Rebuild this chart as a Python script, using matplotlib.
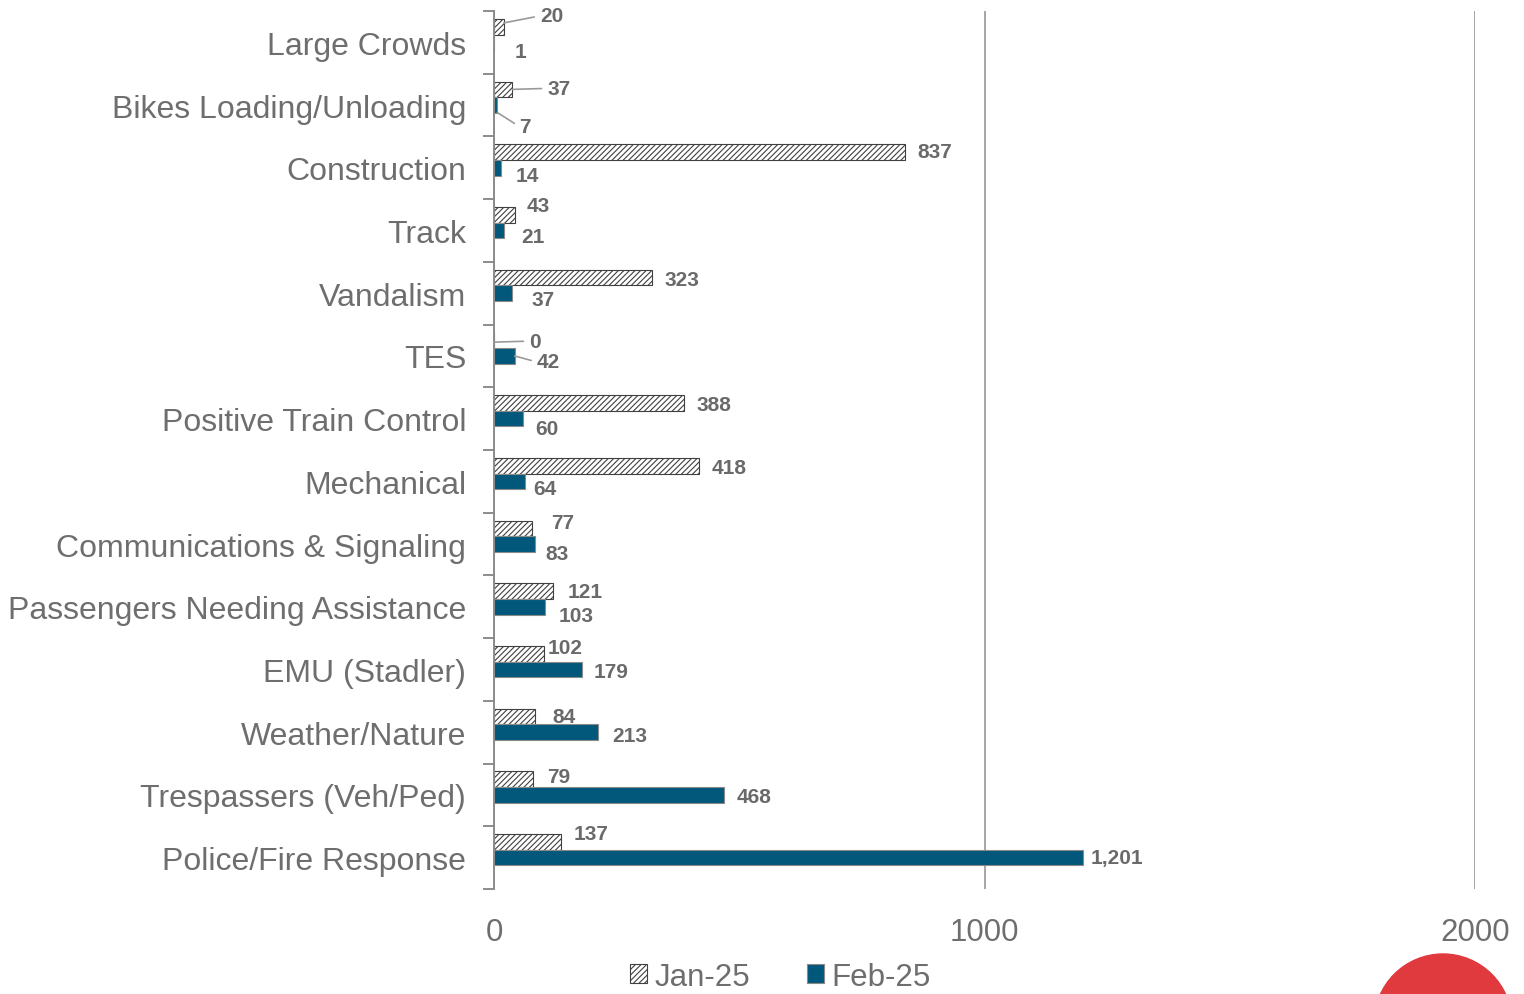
import matplotlib
matplotlib.use("Agg")
import matplotlib.pyplot as plt
from matplotlib.patches import Ellipse
from matplotlib.ticker import FixedLocator
import numpy as np

plt.rcParams['font.family'] = ['Liberation Sans', 'DejaVu Sans']
plt.rcParams['hatch.linewidth'] = 0.8

categories = ["Large Crowds", "Bikes Loading/Unloading", "Construction", "Track",
              "Vandalism", "TES", "Positive Train Control", "Mechanical",
              "Communications & Signaling", "Passengers Needing Assistance",
              "EMU (Stadler)", "Weather/Nature", "Trespassers (Veh/Ped)",
              "Police/Fire Response"]
jan_25 = [20, 37, 837, 43, 323, 0, 388, 418, 77, 121, 102, 84, 79, 137]
feb_25 = [1, 7, 14, 21, 37, 42, 60, 64, 83, 103, 179, 213, 468, 1201]
x_ticks = [0, 1000, 2000]

# label placement tweaks: (pixels right of bar end, pixels below bar centre)
jan_offsets = [(36, -7), (35, -1), (13, -1), (12, -9), (12, 2), (35, -1), (12, 2),
               (13, 2), (19, -6), (14, 0), (4, -6), (17, 0), (14, -3), (12, -8)]
feb_offsets = [(20, 9), (22, 14), (15, 8), (17, 6), (19, 6), (22, 6), (12, 10),
               (8, 7), (11, 9), (14, 9), (12, 2), (14, 3), (13, 2), (8, 0)]
# leader-line anchor shift (category units, downwards) for labels set apart
jan_leader = {0: -0.06, 1: 0.0, 5: 0.03}
feb_leader = {1: 0.12, 5: 0.0}

BLUE = "#02587A"
GRID = "#a6a6a6"
TXT = "#6e6e6e"
LBL = "#6a6a6a"

W, H = 1524, 995
fig = plt.figure(figsize=(W / 100, H / 100), dpi=100)
ax = fig.add_axes([494 / W, 1 - 890 / H, (1475 - 494) / W, (890 - 12) / H])

y = np.arange(len(categories))
bh = 0.25
ax.barh(y - 0.25, jan_25, height=bh, color="white", edgecolor="#404040",
        hatch="//////", linewidth=0.8, label="Jan-25", zorder=3)
ax.barh(y, feb_25, height=bh, color=BLUE, edgecolor="#8a8a8a",
        linewidth=0.8, label="Feb-25", zorder=3)

ax.set_xlim(0, 2000)
ax.set_ylim(len(categories) - 0.5, -0.5)

ax.set_xticks(x_ticks)
ax.set_xticklabels([str(v) for v in x_ticks], fontsize=22.5, color=TXT)
ax.tick_params(axis="x", length=0, pad=20)
ax.xaxis.grid(True, color=GRID, linewidth=1.4, zorder=0)

ax.set_yticks(y)
ax.set_yticklabels(categories, fontsize=23.0, color=TXT)
ax.yaxis.set_minor_locator(FixedLocator(np.arange(-0.5, len(categories), 1.0)))
ax.tick_params(axis="y", which="major", length=0, pad=20)
ax.tick_params(axis="y", which="minor", length=8, width=1.4, color="#8c8c8c")

for s in ["top", "right", "bottom"]:
    ax.spines[s].set_visible(False)
ax.spines["left"].set_color("#8c8c8c")
ax.spines["left"].set_linewidth(1.4)
ax.spines["left"].set_zorder(4)


def put_label(val, yc, off, anchor_shift):
    kw = dict(textcoords="offset pixels", ha="left", va="center",
              fontsize=15, fontweight="bold", color=LBL, zorder=5,
              annotation_clip=False)
    xytext = (off[0], -off[1])
    if anchor_shift is not None:
        kw["arrowprops"] = dict(arrowstyle="-", color="#9a9a9a", lw=1.2,
                                shrinkA=2, shrinkB=0, relpos=(0, 0.5))
        ax.annotate(f"{val:,}", xy=(val, yc + anchor_shift), xytext=xytext, **kw)
    else:
        ax.annotate(f"{val:,}", xy=(val, yc), xytext=xytext, **kw)


for i in range(len(categories)):
    put_label(jan_25[i], y[i] - 0.25, jan_offsets[i], jan_leader.get(i))
    put_label(feb_25[i], y[i], feb_offsets[i], feb_leader.get(i))

leg = fig.legend(loc="center", bbox_to_anchor=(0.512, 0.0175), ncol=2,
                 frameon=False, fontsize=22.5, handlelength=0.55,
                 handleheight=0.55, handletextpad=0.25, columnspacing=1.8,
                 borderpad=0, borderaxespad=0)
for t in leg.get_texts():
    t.set_color(TXT)

# red badge in the lower-right corner
r = 68.8
fig.add_artist(Ellipse((1443 / W, 1 - 1023.8 / H), 2 * r / W, 2 * r / H,
                       transform=fig.transFigure, color="#E0393E", zorder=10))

fig.savefig("out.png", dpi=100)
